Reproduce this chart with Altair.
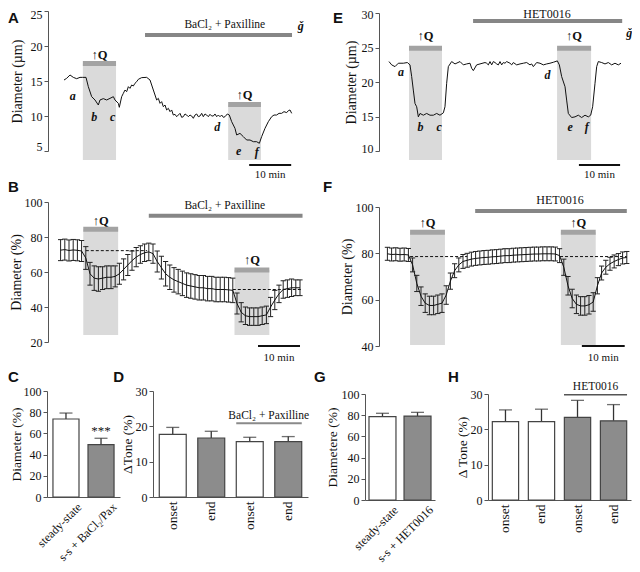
import altair as alt
import pandas as pd

SERIF = "Liberation Serif"
SANS = "Liberation Sans"
W, H = 624, 556
M = 8
INK = "#111111"
AX = "#555555"
BOX = "#dadada"
QBAR = "#a3a3a3"
DRUG = "#868686"
GRAYBAR = "#8c8c8c"

# ============================ DATA ============================
# Panel A: single vessel, diameter (µm) vs time (min)
a_time = [3.81, 4.44, 5.24, 6.03, 6.83, 7.62, 8.25, 9.05, 9.60, 10.40, 11.19, 11.98, 12.38, 13.17,
          13.97, 14.76, 15.56, 15.95, 16.75, 16.98, 17.54, 17.94, 18.33, 18.73, 19.13, 19.52, 19.92,
          20.32, 20.71, 21.11, 21.51, 22.30, 23.49, 24.29, 25.08, 25.48, 25.87, 26.27, 26.67, 27.06,
          27.46, 27.86, 28.25, 28.65, 29.05, 29.44, 29.84, 30.24, 30.63, 31.03, 31.43, 31.83, 32.22,
          32.62, 33.02, 33.41, 33.81, 34.21, 34.60, 35.00, 35.40, 35.79, 36.19, 36.59, 36.98, 37.38,
          37.78, 38.17, 38.57, 38.97, 39.37, 39.76, 40.16, 40.56, 40.95, 41.35, 41.75, 42.14, 42.70,
          43.17, 43.73, 44.52, 44.92, 45.71, 46.51, 47.30, 48.10, 48.89, 49.68, 50.32, 50.87, 51.67,
          52.46, 53.25, 53.81, 54.44, 55.00, 55.63, 56.19, 56.83, 57.22, 57.62, 58.02]
a_diam = [15.14, 15.38, 15.86, 15.52, 15.33, 15.52, 15.52, 15.52, 14.19, 12.76, 12.29, 11.57, 12.29,
          12.48, 12.29, 12.52, 12.76, 12.29, 11.81, 11.24, 12.76, 13.24, 13.71, 13.48, 14.19, 13.95,
          14.43, 14.29, 14.67, 14.90, 15.24, 15.48, 15.52, 15.14, 13.71, 13.00, 12.29, 12.52, 11.81,
          12.05, 11.33, 11.57, 10.86, 11.10, 10.62, 10.86, 10.14, 10.24, 9.90, 10.14, 10.38, 9.81,
          9.90, 10.29, 10.14, 9.90, 10.14, 10.00, 9.67, 10.14, 10.29, 9.90, 10.00, 10.38, 9.90, 10.29,
          10.14, 9.90, 10.24, 10.00, 10.00, 10.29, 9.90, 10.14, 9.90, 10.14, 9.81, 9.90, 10.29, 10.14,
          9.19, 8.24, 7.29, 7.52, 7.05, 6.57, 6.57, 6.33, 6.33, 6.10, 7.05, 8.24, 9.19, 9.90, 10.14,
          10.14, 10.38, 10.38, 10.62, 10.48, 10.76, 10.86, 10.38]
a_q_start = [8.3, 42.9]
a_q_end = [16.2, 50.7]
a_q_level = [17.5, 11.64]
a_q_label = [18.75, 13.05]
a_floor = 3.7
a_letters = ["a", "b", "c", "d", "e", "f", "ǧ"]
a_letter_t = [5.9, 11.0, 15.4, 40.3, 45.4, 49.7, 60.2]
a_letter_v = [12.9, 9.9, 9.8, 8.5, 5.0, 4.8, 22.8]

# Panel E: single vessel, diameter (µm) vs time (min)
e_time = [2.38, 3.02, 3.81, 4.60, 5.79, 6.75, 7.38, 7.78, 8.17, 8.57, 8.97, 9.37, 9.76, 10.56, 11.35,
          12.14, 12.94, 13.73, 14.52, 15.32, 15.71, 16.11, 16.51, 17.30, 18.10, 19.29, 20.08, 20.87,
          21.67, 22.06, 22.46,
          23.25, 24.05, 25.24, 25.63, 26.03, 26.43, 26.83, 27.22, 27.62, 28.02, 28.41, 28.81, 29.21,
          29.60, 30.00, 30.40, 31.19, 31.59, 31.98, 32.78, 33.57, 34.37, 35.16, 35.95, 36.35, 36.75,
          37.54, 38.33, 39.13, 39.92, 40.71, 41.51, 42.46,
          42.94, 43.49, 44.29, 44.68, 45.08, 45.87, 46.67, 47.46, 48.25, 49.05, 49.84, 50.40, 50.87,
          51.43, 51.83, 52.22, 53.02, 53.81, 54.60, 55.40, 56.19, 56.98, 57.62]
e_diam = [22.96, 22.48, 22.23, 22.72, 22.72, 22.82, 22.48, 20.78, 18.83, 16.89, 16.41, 14.95, 15.44,
          15.19, 15.44, 15.19, 15.19, 15.44, 15.19, 15.53, 16.41, 19.81, 22.23, 22.96, 22.62, 22.96,
          22.48, 22.62, 22.72, 21.99, 21.65,
          22.48, 22.62, 22.82, 22.72, 22.48, 22.96, 22.48, 22.96, 22.82, 22.62, 22.48, 22.96, 22.48,
          22.82, 22.72, 22.96, 22.72, 22.48, 22.82, 22.48, 22.62, 22.72, 22.82, 22.48, 22.62, 22.23,
          22.82, 22.72, 22.48, 22.62, 22.72, 22.86, 23.06,
          22.48, 20.78, 19.32, 17.38, 15.44, 14.85, 14.95, 15.19, 14.85, 15.19, 14.95, 15.19, 16.41,
          19.81, 22.23, 22.96, 22.82, 22.62, 22.82, 22.48, 22.72, 22.48, 22.72]
e_q_start = [7.14, 42.4]
e_q_end = [15.0, 50.5]
e_q_level = [24.88, 24.88]
e_q_label = [26.6, 26.6]
e_floor = 8.7
e_letters = ["a", "b", "c", "d", "e", "f", "ǧ"]
e_letter_t = [5.24, 9.9, 14.3, 40.1, 45.5, 49.45, 59.6]
e_letter_v = [21.4, 13.5, 13.5, 21.0, 13.5, 13.5, 27.05]

# Panel B: mean ± SEM diameter (%) vs time (min)
b_time = list(range(3, 61))
b_mean = [72.5, 72.8, 72.3, 72.6, 72.4, 72.0, 68.0, 59.0, 56.5, 56.0, 56.5, 57.0, 57.0, 57.5, 59.0,
          61.5, 64.0, 66.5, 68.5, 70.0, 71.0, 71.5, 70.5, 66.0, 62.5, 59.0, 57.0, 55.5, 54.5, 53.5,
          52.5, 52.0, 51.5, 51.0, 51.0, 50.5, 50.5, 50.0, 50.0, 50.0, 49.8, 49.5, 42.0, 37.0, 35.0,
          34.5, 34.5, 34.5, 35.0, 35.5, 40.0, 44.0, 47.5, 50.0, 50.5, 51.0, 51.0, 51.0]
b_sem = [6.0, 6.0, 6.0, 6.0, 6.0, 6.0, 6.5, 6.5, 7.0, 7.0, 6.5, 6.5, 6.5, 6.0, 6.0, 6.0, 6.0, 5.5,
         5.5, 5.0, 5.0, 5.0, 5.5, 6.0, 6.5, 7.0, 7.0, 7.0, 7.0, 7.0, 7.0, 7.0, 7.0, 7.0, 7.0, 7.0,
         7.0, 7.0, 7.0, 7.0, 7.0, 7.0, 6.0, 5.5, 5.0, 5.0, 5.0, 5.0, 5.0, 5.0, 5.5, 5.5, 5.0, 5.0,
         5.0, 5.0, 4.5, 4.5]
b_q_start = [8.4, 44.4]
b_q_end = [16.7, 52.7]
b_q_level = [84.4, 61.1]
b_q_label = [89.3, 66.9]
b_floor = 24.0
b_base_start = [9.0, 44.0]
b_base_end = [23.6, 60.4]
b_base_level = [72.2, 50.0]

# Panel F: mean ± SEM diameter (%) vs time (min)
f_time = list(range(2, 60))
f_mean = [79.8, 79.5, 79.6, 79.4, 79.5, 79.3, 75.0, 67.0, 61.5, 58.5, 57.5, 57.5, 58.0, 58.5, 62.0,
          68.0, 72.5, 75.0, 76.5, 77.0, 77.5, 77.8, 78.0, 78.2, 78.3, 78.5, 78.6, 78.8, 79.0, 79.0,
          79.2, 79.3, 79.4, 79.5, 79.6, 79.7, 79.7, 79.8, 79.8, 79.8, 79.7, 79.0, 74.0, 66.0, 60.5,
          58.0, 57.3, 57.3, 57.8, 59.0, 66.0, 71.5, 74.0, 75.5, 76.5, 77.3, 78.0, 78.2]
f_sem = [2.8, 2.8, 2.8, 2.8, 2.8, 2.8, 3.0, 3.5, 4.0, 4.0, 4.0, 4.0, 4.0, 4.0, 4.0, 3.5, 3.0, 3.0,
         3.0, 3.0, 3.0, 3.0, 3.0, 3.0, 3.0, 3.0, 3.0, 3.0, 3.0, 3.0, 3.0, 3.0, 3.0, 3.0, 3.0, 3.0,
         3.0, 3.0, 3.0, 3.0, 3.0, 3.0, 3.5, 4.0, 4.0, 4.0, 4.0, 4.0, 4.0, 4.0, 3.5, 3.0, 3.0, 2.8,
         2.8, 2.6, 2.6, 2.6]
f_q_start = [7.4, 43.3]
f_q_end = [15.7, 51.6]
f_q_level = [89.1, 89.1]
f_q_label = [93.3, 93.3]
f_floor = 40.4
f_base_start = [7.4, 43.1]
f_base_end = [21.0, 59.0]
f_base_level = [78.6, 78.6]

# Drug application bars (start, end, level) and labels (text, t, level)
a_drug = (23.1, 58.1, 21.57); a_drug_lbl = ("BaCl₂ + Paxilline", 42.1, 23.0)
e_drug = (22.4, 57.9, 28.84); e_drug_lbl = ("HET0016", 40.0, 29.82)
b_drug = (24.0, 60.6, 92.2);  b_drug_lbl = ("BaCl₂ + Paxilline", 42.1, 97.9)
f_drug = (22.9, 59.0, 98.3);  f_drug_lbl = ("HET0016", 43.1, 103.0)

# 10-min scale bars (start, end, level, label level)
a_scale = (47.9, 57.9, 3.0, 2.4)
e_scale = (47.6, 57.4, 7.97, 7.35)
b_scale = (50.0, 60.0, 17.7, 14.4)
f_scale = (48.3, 58.5, 40.0, 37.4)

# Bar summary panels
c_cats = ["steady-state", "s-s + BaCl₂/Pax"]
c_vals = [73.6, 49.4]
c_errs = [5.6, 6.0]
c_fill = ["#ffffff", GRAYBAR]
d_cats = ["onset|1", "end|1", "onset|2", "end|2"]
d_vals = [17.7, 16.7, 15.7, 15.7]
d_errs = [2.0, 1.9, 1.2, 1.4]
d_fill = ["#ffffff", GRAYBAR, "#ffffff", GRAYBAR]
g_cats = ["steady-state", "s-s + HET0016"]
g_vals = [78.6, 79.2]
g_errs = [3.2, 3.5]
g_fill = ["#ffffff", GRAYBAR]
h_cats = ["onset|1", "end|1", "onset|2", "end|2"]
h_vals = [22.2, 22.2, 23.4, 22.4]
h_errs = [3.3, 3.5, 4.8, 4.6]
h_fill = ["#ffffff", "#ffffff", GRAYBAR, GRAYBAR]

# ============================ GEOMETRY (page px) ============================
GEOM = {
    "A": {"x": ([0, 60], 48, 300), "y": ([5, 25], 151, 11)},
    "E": {"x": ([0, 60], 379, 631), "y": ([10, 30], 151, 13)},
    "B": {"x": ([0, 61], 48, 304.2), "y": ([20, 100], 342, 202)},
    "F": {"x": ([0, 60], 379, 631), "y": ([40, 100], 346, 207)},
    "C": {"x": (c_cats, 47, 120, 0.257, 0.17), "y": ([0, 100], 497, 391)},
    "D": {"x": (d_cats, 153, 308, 0.30, 0.163), "y": ([0, 30], 497, 391)},
    "G": {"x": (g_cats, 365, 435, 0.23, 0.114), "y": ([0, 100], 500, 394)},
    "H": {"x": (h_cats, 488, 631, 0.27, 0.12), "y": ([0, 30], 500, 394)},
}

AXSTYLE = dict(grid=False, domainColor=AX, tickColor=AX, domainWidth=1, tickWidth=1,
               labelFont=SERIF, titleFont=SERIF, labelColor=INK, titleColor=INK,
               titleFontWeight="normal", labelFontWeight="normal")


def is_band(p):
    return isinstance(GEOM[p]["x"][0][0], str)


def xsc(p):
    g = GEOM[p]["x"]
    if is_band(p):
        return alt.Scale(type="band", domain=g[0], range=[g[1] - M, g[2] - M],
                         paddingInner=g[3], paddingOuter=g[4])
    return alt.Scale(domain=g[0], range=[g[1] - M, g[2] - M], zero=False, nice=False)


def ysc(p):
    d, lo, hi = GEOM[p]["y"]
    return alt.Scale(domain=d, range=[lo - M, hi - M], zero=False, nice=False)


def ex(p, f, axis=None):
    return alt.X(field=f, type="nominal" if is_band(p) else "quantitative", scale=xsc(p), axis=axis)


def ey(p, f, axis=None):
    return alt.Y(field=f, type="quantitative", scale=ysc(p), axis=axis)


def yaxis(p, title, values, tsize, tpad, flush=None):
    extra = {} if flush is None else {"labelFlush": True, "labelFlushOffset": flush}
    return alt.Axis(title=title, values=values, orient="left", offset=-(GEOM[p]["x"][1] - M),
                    titleFontSize=tsize, titlePadding=tpad, labelFontSize=12, tickSize=4,
                    labelPadding=2, **extra, **AXSTYLE)


def xaxis(p, angle, lsize, loff):
    ybot = GEOM[p]["y"][1] - M
    return alt.Axis(title=None, orient="bottom", offset=-(H - ybot), labelAngle=angle,
                    labelExpr="split(datum.label, '|')[0]", ticks=False, labelPadding=4,
                    labelFontSize=lsize, labelOffset=loff, **AXSTYLE)


back, mid, front = [], [], []


def q_boxes(p, start, end, level, floor, label_lvl):
    df = pd.DataFrame({"t0": start, "t1": end, "lvl": level, "floor": [floor] * len(start),
                       "lab": label_lvl, "txt": ["↑Q"] * len(start)})
    df["mid"] = (df["t0"] + df["t1"]) / 2
    back.append(alt.Chart(df).mark_rect(fill=BOX).encode(
        x=ex(p, "t0"), x2="t1", y=ey(p, "floor"), y2="lvl"))
    back.append(alt.Chart(df).mark_rule(color=QBAR, strokeWidth=5).encode(
        x=ex(p, "t0"), x2="t1", y=ey(p, "lvl")))
    front.append(alt.Chart(df).mark_text(font=SERIF, fontSize=12.5, fontWeight="bold", color=INK).encode(
        x=ex(p, "mid"), y=ey(p, "lab"), text="txt:N"))


def drug_bar(p, bar, lbl, fsize):
    df = pd.DataFrame({"t0": [bar[0]], "t1": [bar[1]], "lvl": [bar[2]],
                       "txt": [lbl[0]], "tx": [lbl[1]], "ty": [lbl[2]]})
    back.append(alt.Chart(df).mark_rule(color=DRUG, strokeWidth=4).encode(
        x=ex(p, "t0"), x2="t1", y=ey(p, "lvl")))
    front.append(alt.Chart(df).mark_text(font=SERIF, fontSize=fsize, color=INK).encode(
        x=ex(p, "tx"), y=ey(p, "ty"), text="txt:N"))


def scale_bar(p, sb):
    df = pd.DataFrame({"t0": [sb[0]], "t1": [sb[1]], "lvl": [sb[2]], "lab": [sb[3]], "txt": ["10 min"]})
    df["mid"] = (df["t0"] + df["t1"]) / 2
    front.append(alt.Chart(df).mark_rule(color=INK, strokeWidth=2).encode(
        x=ex(p, "t0"), x2="t1", y=ey(p, "lvl")))
    front.append(alt.Chart(df).mark_text(font=SERIF, fontSize=11, color=INK, baseline="top").encode(
        x=ex(p, "mid"), y=ey(p, "lab"), text="txt:N"))


def letter(p, s, dx, dy):
    xd = GEOM[p]["x"][0][0]
    yd = GEOM[p]["y"][0][1]
    df = pd.DataFrame({"x": [xd], "y": [yd], "s": [s]})
    front.append(alt.Chart(df).mark_text(font=SANS, fontWeight="bold", fontSize=15, color=INK,
                                         align="left", baseline="top", dx=dx, dy=dy).encode(
        x=ex(p, "x"), y=ey(p, "y"), text="s:N"))


def trace_panel(p, t, v, letters, lt, lv, ytitle, yvals, tsize, tpad, flush):
    df = pd.DataFrame({"t": t, "v": v})
    mid.append(alt.Chart(df).mark_line(color=INK, strokeWidth=1).encode(
        x=ex(p, "t"), y=ey(p, "v", axis=yaxis(p, ytitle, yvals, tsize, tpad, flush))))
    dl = pd.DataFrame({"t": lt, "v": lv, "s": letters})
    front.append(alt.Chart(dl).mark_text(font=SERIF, fontStyle="italic", fontWeight="bold",
                                         fontSize=12, color=INK).encode(
        x=ex(p, "t"), y=ey(p, "v"), text="s:N"))


def mean_panel(p, t, mean, sem, bs, be, bl, ytitle, yvals, tpad):
    df = pd.DataFrame({"t": t, "m": mean, "s": sem})
    df["lo"] = df["m"] - df["s"]
    df["hi"] = df["m"] + df["s"]
    dd = pd.DataFrame({"t0": bs, "t1": be, "lvl": bl})
    mid.append(alt.Chart(dd).mark_rule(color=INK, strokeWidth=1, strokeDash=[3, 2]).encode(
        x=ex(p, "t0"), x2="t1", y=ey(p, "lvl")))
    mid.append(alt.Chart(df).mark_rule(color="#222222", strokeWidth=1).encode(
        x=ex(p, "t"), y=ey(p, "lo", axis=yaxis(p, ytitle, yvals, 14, tpad)), y2="hi"))
    for f in ["lo", "hi"]:
        mid.append(alt.Chart(df).mark_rule(color="#222222", strokeWidth=1, xOffset=-2.6, x2Offset=2.6).encode(
            x=ex(p, "t"), x2="t", y=ey(p, f)))
    mid.append(alt.Chart(df).mark_line(color=INK, strokeWidth=1).encode(x=ex(p, "t"), y=ey(p, "m")))


def bar_panel(p, cats, vals, errs, fills, ytitle, yvals, angle, tpad, lsize, loff):
    df = pd.DataFrame({"c": cats, "v": vals, "e": errs, "fill": fills})
    df["hi"] = df["v"] + df["e"]
    mid.append(alt.Chart(df).mark_rule(color="#333333", strokeWidth=1.3).encode(
        x=ex(p, "c"), y=ey(p, "v"), y2="hi"))
    mid.append(alt.Chart(df).mark_tick(color="#333333", thickness=1.3, size=13).encode(
        x=ex(p, "c"), y=ey(p, "hi")))
    mid.append(alt.Chart(df).mark_bar(stroke="#444444", strokeWidth=1.2).encode(
        x=ex(p, "c", axis=xaxis(p, angle, lsize, loff)),
        y=ey(p, "v", axis=yaxis(p, ytitle, yvals, 13.5, tpad)),
        fill=alt.Fill("fill:N", scale=None)))
    return df


def group_line(p, cats, lvl, label, lab_lvl, color, width, dx):
    df = pd.DataFrame({"c0": [cats[2]], "c1": [cats[3]], "lvl": [lvl], "lab": [lab_lvl], "txt": [label]})
    front.append(alt.Chart(df).mark_rule(color=color, strokeWidth=width, xOffset=-13.5, x2Offset=13.5).encode(
        x=ex(p, "c0"), x2="c1", y=ey(p, "lvl")))
    front.append(alt.Chart(df).mark_text(font=SERIF, fontSize=11.5, color=INK, baseline="bottom", dx=dx).encode(
        x=ex(p, "c0"), y=ey(p, "lab"), text="txt:N"))


# ------------------------- build panels -------------------------
# A
q_boxes("A", a_q_start, a_q_end, a_q_level, a_floor, a_q_label)
drug_bar("A", a_drug, a_drug_lbl, 11.5)
trace_panel("A", a_time, a_diam, a_letters, a_letter_t, a_letter_v, "Diameter (µm)",
            [5, 10, 15, 20, 25], 14, 6, 2)
scale_bar("A", a_scale)
letter("A", "A", -40, 0)
# E
q_boxes("E", e_q_start, e_q_end, e_q_level, e_floor, e_q_label)
drug_bar("E", e_drug, e_drug_lbl, 12)
trace_panel("E", e_time, e_diam, e_letters, e_letter_t, e_letter_v, "Diameter (µm)",
            [10, 15, 20, 25, 30], 14, 3, 4)
scale_bar("E", e_scale)
letter("E", "E", -46, -2)
# B
q_boxes("B", b_q_start, b_q_end, b_q_level, b_floor, b_q_label)
drug_bar("B", b_drug, b_drug_lbl, 11.5)
mean_panel("B", b_time, b_mean, b_sem, b_base_start, b_base_end, b_base_level,
           "Diameter (%)", [20, 40, 60, 80, 100], 1)
scale_bar("B", b_scale)
letter("B", "B", -40, -22)
# F
q_boxes("F", f_q_start, f_q_end, f_q_level, f_floor, f_q_label)
drug_bar("F", f_drug, f_drug_lbl, 12)
mean_panel("F", f_time, f_mean, f_sem, f_base_start, f_base_end, f_base_level,
           "Diameter (%)", [40, 60, 80, 100], 1)
scale_bar("F", f_scale)
letter("F", "F", -56, -27)
# C
cdf = bar_panel("C", c_cats, c_vals, c_errs, c_fill, "Diameter (%)", [0, 20, 40, 60, 80, 100],
                315, 0, 12, 10)
sig = cdf.iloc[[1]].assign(txt="***")
front.append(alt.Chart(sig).mark_text(font=SERIF, fontSize=13, color=INK, baseline="bottom").encode(
    x=ex("C", "c"), y=ey("C", "hi"), text="txt:N"))
letter("C", "C", -58, -21)
# D
bar_panel("D", d_cats, d_vals, d_errs, d_fill, "ΔTone (%)", [0, 10, 20, 30], 270, 1, 13.5, 0)
group_line("D", d_cats, 20.9, "BaCl₂ + Paxilline", 21.6, "#8a8a8a", 2, 19)
letter("D", "D", -59.5, -21)
# G
bar_panel("G", g_cats, g_vals, g_errs, g_fill, "Diametere (%)", [0, 20, 40, 60, 80, 100],
          315, 2, 12, 10)
letter("G", "G", -68.5, -24)
# H
bar_panel("H", h_cats, h_vals, h_errs, h_fill, "Δ Tone (%)", [0, 10, 20, 30], 270, 1, 13.5, 0)
group_line("H", h_cats, 29.8, "HET0016", 30.5, "#555555", 1.6, 18)
letter("H", "H", -57.5, -24)

chart = (
    alt.layer(*(back + mid + front))
    .resolve_scale(x="independent", y="independent")
    .properties(width=W, height=H, autosize=alt.AutoSizeParams(type="none"), padding=0)
    .configure_view(stroke=None)
    .configure_axis(**AXSTYLE)
)

chart.save("out.html", embed_options={"renderer": "svg", "actions": False})
